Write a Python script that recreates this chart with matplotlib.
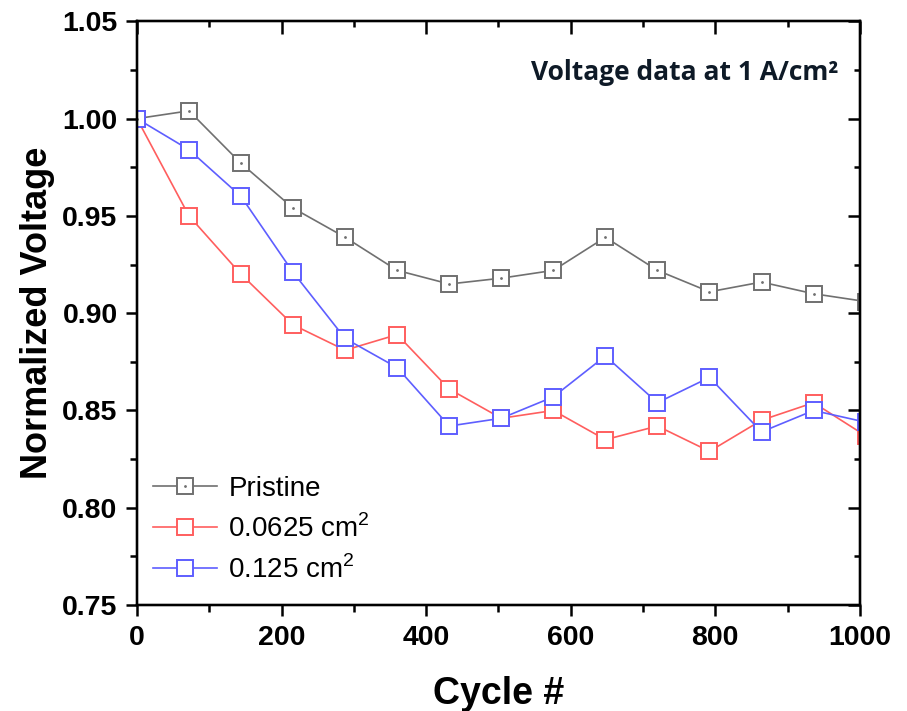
import matplotlib
matplotlib.use("Agg")
import matplotlib.pyplot as plt
from matplotlib.ticker import MultipleLocator
from matplotlib.legend_handler import HandlerTuple

# Data (cycle number vs normalized voltage)
cycles = [0, 72, 144, 216, 288, 360, 432, 504, 576, 648, 720, 792, 864, 936, 1008]
pristine = [1.000, 1.004, 0.977, 0.954, 0.939, 0.922, 0.915, 0.918, 0.922,
            0.939, 0.922, 0.911, 0.916, 0.910, 0.906]
area_0625 = [1.000, 0.950, 0.920, 0.894, 0.881, 0.889, 0.861, 0.846, 0.850,
             0.835, 0.842, 0.829, 0.845, 0.854, 0.837]
area_125 = [1.000, 0.984, 0.960, 0.921, 0.887, 0.872, 0.842, 0.846, 0.857,
            0.878, 0.854, 0.867, 0.839, 0.850, 0.844]

labels = ["Pristine", r"0.0625 cm$^{\mathregular{2}}$", r"0.125 cm$^{\mathregular{2}}$"]
colors = ["#707070", "#ff5e5e", "#5e5eff"]

plt.rcParams["font.family"] = ["Liberation Sans", "DejaVu Sans"]
plt.rcParams["mathtext.fontset"] = "custom"
plt.rcParams["mathtext.rm"] = "Liberation Sans"

fig = plt.figure(figsize=(9.07, 7.11), dpi=100)
ax = fig.add_axes([0.151, 0.149, 0.797, 0.821])

handles = []
for ys, c in zip([pristine, area_0625, area_125], colors):
    h, = ax.plot(cycles, ys, color=c, lw=1.2, marker="s", ms=11,
                 mfc="white", mec=c, mew=1.4)
    handles.append(h)

# small centre dots of the Pristine symbols
dot, = ax.plot(cycles, pristine, ls="none", marker=".", ms=2, color="#707070")

ax.set_xlim(0, 1000)
ax.set_ylim(0.75, 1.05)
ax.xaxis.set_major_locator(MultipleLocator(200))
ax.xaxis.set_minor_locator(MultipleLocator(100))
ax.yaxis.set_major_locator(MultipleLocator(0.05))
ax.yaxis.set_minor_locator(MultipleLocator(0.025))
ax.yaxis.set_major_formatter(plt.FormatStrFormatter("%.2f"))

for s in ax.spines.values():
    s.set_linewidth(1.6)

ax.tick_params(which="both", direction="out", top=False, right=False, width=1.8)
ax.tick_params(which="major", length=8, labelsize=20.5, pad=6)
ax.tick_params(which="minor", length=5)
for lab in ax.get_xticklabels() + ax.get_yticklabels():
    lab.set_fontweight("bold")

# inward ticks on top and right
axt = ax.twiny()
axt.set_xlim(ax.get_xlim())
axt.xaxis.set_major_locator(MultipleLocator(200))
axt.xaxis.set_minor_locator(MultipleLocator(100))
axt.tick_params(axis="x", which="both", direction="in", width=1.8, colors="black",
                top=True, bottom=False, labeltop=False, labelbottom=False)
axt.tick_params(axis="x", which="major", length=9)
axt.tick_params(axis="x", which="minor", length=4.5)
axr = ax.twinx()
axr.set_ylim(ax.get_ylim())
axr.yaxis.set_major_locator(MultipleLocator(0.05))
axr.yaxis.set_minor_locator(MultipleLocator(0.025))
axr.tick_params(axis="y", which="both", direction="in", width=1.8, colors="black",
                right=True, left=False, labelright=False, labelleft=False)
axr.tick_params(axis="y", which="major", length=9)
axr.tick_params(axis="y", which="minor", length=4.5)
for a in (axt, axr):
    for s in a.spines.values():
        s.set_linewidth(1.6)

ax.set_xlabel("Cycle #", fontsize=27, fontweight="bold", labelpad=18)
ax.set_ylabel("Normalized Voltage", fontsize=26, fontweight="bold", labelpad=5)

ax.text(0.97, 0.912, "Voltage data at 1 A/cm²", transform=ax.transAxes,
        ha="right", va="center", fontsize=19, fontweight="bold",
        family=["Open Sans", "DejaVu Sans"], color="#0e1a27")

ax.legend([(handles[0], dot), handles[1], handles[2]], labels,
          handler_map={tuple: HandlerTuple(ndivide=1, pad=0)},
          loc="lower left", bbox_to_anchor=(-0.012, -0.006), frameon=False,
          fontsize=20, handlelength=2.3, labelspacing=0.45, handletextpad=0.4)

fig.savefig("out.png", dpi=100)
